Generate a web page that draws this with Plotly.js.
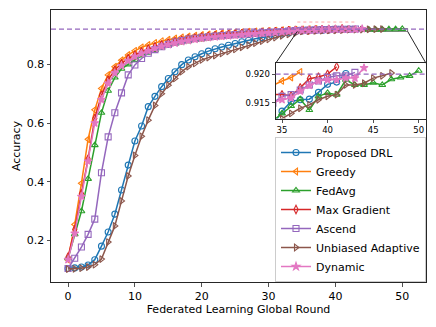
<!DOCTYPE html>
<html>
<head>
<meta charset="utf-8">
<script src="https://cdn.plot.ly/plotly-3.0.1.min.js"></script>
<style>
  html, body { margin: 0; padding: 0; background: #fff; }
  #chart { width: 436px; height: 327px; }
</style>
</head>
<body>
<div id="chart"></div>
<script>
// Accuracy vs. federated learning global round, 7 client-selection schemes,
// with a zoomed inset around the 0.92 target accuracy.

const ROUNDS = [0, 1, 2, 3, 4, 5, 6, 7, 8, 9, 10, 11, 12, 13, 14, 15, 16, 17, 18, 19, 20,
  21, 22, 23, 24, 25, 26, 27, 28, 29, 30, 31, 32, 33, 34, 35, 36, 37, 38, 39, 40,
  41, 42, 43, 44, 45, 46, 47, 48, 49, 50];

const TARGET_ACC = 0.92;

const proposedDRL = [0.105, 0.107, 0.110, 0.117, 0.135, 0.181, 0.229, 0.290, 0.372, 0.457,
  0.539, 0.590, 0.656, 0.691, 0.724, 0.752, 0.775, 0.799, 0.815, 0.826,
  0.836, 0.845, 0.853, 0.859, 0.865, 0.871, 0.877, 0.882, 0.887, 0.891,
  0.895, 0.899, 0.903, 0.907, 0.911, 0.9135, 0.9152, 0.9155, 0.9156, 0.9168,
  0.9182, 0.9186, 0.9201];

const greedy = [0.135, 0.255, 0.395, 0.545, 0.645, 0.718, 0.764, 0.792, 0.814, 0.832,
  0.846, 0.858, 0.866, 0.873, 0.879, 0.884, 0.888, 0.892, 0.895, 0.898,
  0.900, 0.902, 0.904, 0.906, 0.907, 0.909, 0.910, 0.911, 0.912, 0.913,
  0.914, 0.915, 0.916, 0.917, 0.918, 0.9188, 0.9194, 0.9204];

const fedAvg = [0.140, 0.222, 0.300, 0.410, 0.525, 0.635, 0.710, 0.755, 0.785, 0.800,
  0.815, 0.830, 0.840, 0.849, 0.857, 0.864, 0.870, 0.875, 0.879, 0.883,
  0.886, 0.889, 0.892, 0.894, 0.896, 0.898, 0.900, 0.902, 0.903, 0.905,
  0.906, 0.907, 0.909, 0.910, 0.9118, 0.9131, 0.9144, 0.9156, 0.9137, 0.9161,
  0.9167, 0.9164, 0.9190, 0.9181, 0.9181, 0.9185, 0.9181, 0.9191, 0.9194, 0.9197,
  0.9206];

const maxGradient = [0.144, 0.238, 0.360, 0.478, 0.616, 0.695, 0.747, 0.781, 0.803, 0.820,
  0.832, 0.843, 0.852, 0.860, 0.867, 0.873, 0.878, 0.883, 0.887, 0.890,
  0.893, 0.896, 0.898, 0.900, 0.902, 0.904, 0.905, 0.907, 0.908, 0.909,
  0.910, 0.912, 0.913, 0.915, 0.9164, 0.9164, 0.9162, 0.9176, 0.9192, 0.9195,
  0.9200, 0.9213];

const ascend = [0.105, 0.140, 0.178, 0.221, 0.273, 0.431, 0.553, 0.635, 0.703, 0.764,
  0.798, 0.820, 0.838, 0.850, 0.860, 0.868, 0.876, 0.881, 0.886, 0.889,
  0.892, 0.894, 0.896, 0.898, 0.900, 0.901, 0.903, 0.904, 0.906, 0.907,
  0.908, 0.910, 0.911, 0.913, 0.9149, 0.9161, 0.9164, 0.9172, 0.9181, 0.9188,
  0.9194, 0.9197, 0.9197, 0.9203];

const unbiasedAdaptive = [0.103, 0.104, 0.106, 0.110, 0.118, 0.137, 0.195, 0.250, 0.335, 0.420,
  0.490, 0.555, 0.610, 0.660, 0.700, 0.729, 0.752, 0.775, 0.792, 0.803,
  0.815, 0.823, 0.830, 0.837, 0.844, 0.851, 0.858, 0.865, 0.872, 0.879,
  0.885, 0.891, 0.897, 0.902, 0.906, 0.9122, 0.9131, 0.9140, 0.9146, 0.9155,
  0.9161, 0.9164, 0.9181, 0.9181, 0.9184, 0.9193, 0.9197, 0.9202];

const dynamic = [0.135, 0.225, 0.350, 0.470, 0.600, 0.680, 0.735, 0.770, 0.795, 0.812,
  0.826, 0.837, 0.846, 0.854, 0.861, 0.867, 0.872, 0.877, 0.881, 0.885,
  0.888, 0.891, 0.893, 0.895, 0.897, 0.899, 0.901, 0.903, 0.904, 0.906,
  0.907, 0.909, 0.910, 0.912, 0.915, 0.9155, 0.9158, 0.9170, 0.9180, 0.9188,
  0.9190, 0.9190, 0.9193, 0.9193, 0.9211];

const NAMES = ['Proposed DRL', 'Greedy', 'FedAvg', 'Max Gradient', 'Ascend', 'Unbiased Adaptive', 'Dynamic'];
const SERIES = [proposedDRL, greedy, fedAvg, maxGradient, ascend, unbiasedAdaptive, dynamic];
const COLORS = ['#1f77b4', '#ff7f0e', '#2ca02c', '#d62728', '#9467bd', '#8c564b', '#e377c2'];
const SYMBOLS = ['circle-open', 'triangle-left-open', 'triangle-up-open', 'diamond-tall-open',
  'square-open', 'triangle-right-open', 'star'];

const X_TICKS = [0, 10, 20, 30, 40, 50];
const Y_TICKS = [0.2, 0.4, 0.6, 0.8];
const INSET_X_TICKS = [35, 40, 45, 50];
const INSET_Y_TICKS = [0.915, 0.920];

const X_RANGE = [-2.55, 53.55];
const Y_RANGE = [0.059, 0.985];
const ZOOM_X = [34.3, 50.8];
const ZOOM_Y = [0.9122, 0.9219];
const INSET_DOM_X = [0.599, 1.0];
const INSET_DOM_Y = [0.601, 0.804];

const FONT = 'DejaVu Sans, Liberation Sans, sans-serif';
const INK = '#262626';

function styleFor(i) {
  return {
    line: { color: COLORS[i], width: 1.5 },
    marker: { symbol: SYMBOLS[i], size: 6, color: COLORS[i], line: { color: COLORS[i], width: 1.1 } },
  };
}

const traces = [];
SERIES.forEach((ys, i) => {
  traces.push({ x: ROUNDS.slice(0, ys.length), y: ys, mode: 'lines+markers', name: NAMES[i],
    xaxis: 'x', yaxis: 'y', ...styleFor(i) });
});
SERIES.forEach((ys, i) => {           // same curves again, into the zoomed inset
  traces.push({ x: ROUNDS.slice(0, ys.length), y: ys, mode: 'lines+markers', showlegend: false,
    xaxis: 'x2', yaxis: 'y2', hoverinfo: 'skip', ...styleFor(i) });
});

// inset corners expressed in main-axes data units, for the connector lines
const cornerX = (f) => X_RANGE[0] + f * (X_RANGE[1] - X_RANGE[0]);
const cornerY = (f) => Y_RANGE[0] + f * (Y_RANGE[1] - Y_RANGE[0]);

const dashLine = { color: '#9467bd', width: 1.4, dash: '5px,3px' };
const shapes = [
  { type: 'line', xref: 'x domain', yref: 'y', x0: 0, x1: 1, y0: TARGET_ACC, y1: TARGET_ACC, line: dashLine },
  { type: 'line', xref: 'x2 domain', yref: 'y2', x0: 0, x1: 1, y0: TARGET_ACC, y1: TARGET_ACC, line: dashLine },
  { type: 'rect', xref: 'x', yref: 'y', x0: ZOOM_X[0], x1: ZOOM_X[1], y0: ZOOM_Y[0], y1: ZOOM_Y[1],
    line: { color: '#555', width: 0.8 }, layer: 'below' },
  { type: 'line', xref: 'x', yref: 'y', x0: ZOOM_X[0], x1: 43, y0: 0.944, y1: 0.944,
    line: { color: '#ff6b6b', width: 1, dash: 'dot' }, opacity: 0.6 },
  { type: 'line', xref: 'x', yref: 'y', x0: ZOOM_X[0], y0: ZOOM_Y[0],
    x1: cornerX(INSET_DOM_X[0]), y1: cornerY(INSET_DOM_Y[1]), line: { color: INK, width: 1 } },
  { type: 'line', xref: 'x', yref: 'y', x0: ZOOM_X[1], y0: ZOOM_Y[0],
    x1: cornerX(INSET_DOM_X[1]), y1: cornerY(INSET_DOM_Y[1]), line: { color: INK, width: 1 } },
];

const axisBase = {
  showgrid: false, zeroline: false, showline: true, mirror: true,
  linecolor: INK, linewidth: 1, ticks: 'outside', ticklen: 3.5, tickwidth: 0.8, tickcolor: INK,
};

const layout = {
  width: 436, height: 327,
  margin: { l: 51, r: 10, t: 10, b: 45 },
  paper_bgcolor: '#fff', plot_bgcolor: '#fff',
  font: { family: FONT, size: 11, color: '#000' },
  showlegend: true,
  legend: {
    x: 1, y: 0, xanchor: 'right', yanchor: 'bottom',
    bgcolor: 'rgba(255,255,255,0.85)', bordercolor: '#cccccc', borderwidth: 1,
    font: { family: FONT, size: 11, color: '#000' }, tracegroupgap: 0,
  },
  xaxis: {
    ...axisBase, range: X_RANGE, tickvals: X_TICKS, domain: [0, 1], anchor: 'y',
    title: { text: 'Federated Learning Global Round', font: { size: 11 }, standoff: 3 },
  },
  yaxis: {
    ...axisBase, range: Y_RANGE, tickvals: Y_TICKS, domain: [0, 1], anchor: 'x',
    title: { text: 'Accuracy', font: { size: 11 }, standoff: 3 },
  },
  xaxis2: {
    ...axisBase, range: ZOOM_X, tickvals: INSET_X_TICKS, domain: INSET_DOM_X, anchor: 'y2',
    tickfont: { size: 8.5 }, ticklen: 3,
  },
  yaxis2: {
    ...axisBase, range: ZOOM_Y, tickvals: INSET_Y_TICKS, tickformat: '.3f', domain: INSET_DOM_Y, anchor: 'x2',
    tickfont: { size: 8.5 }, ticklen: 3,
  },
  shapes,
};

Plotly.newPlot('chart', traces, layout, { displayModeBar: false, staticPlot: true });
</script>
</body>
</html>
